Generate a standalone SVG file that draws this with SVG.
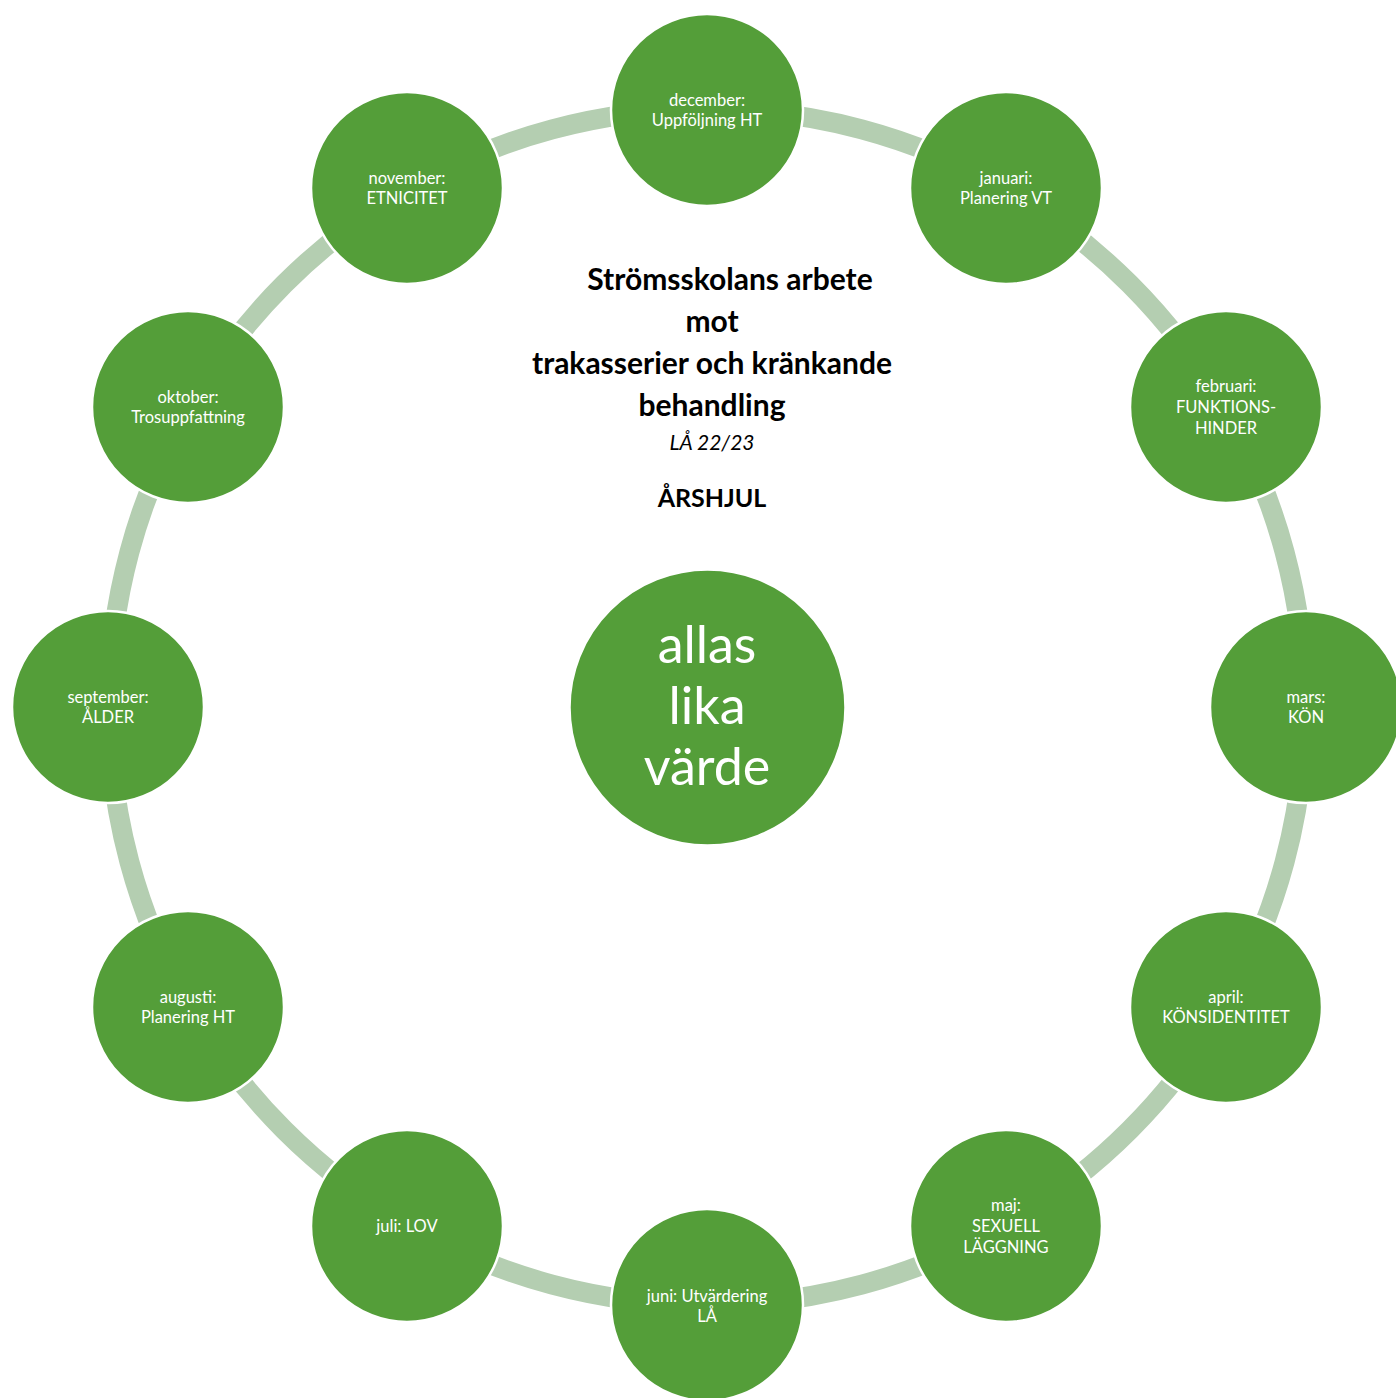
<svg xmlns="http://www.w3.org/2000/svg" width="1396" height="1398" viewBox="0 0 1396 1398">
<style>
.node{fill:#549E39;stroke:#FFFFFF;stroke-width:2.5}
.lbl{font-family:Lato,"Open Sans","Liberation Sans",sans-serif;font-size:16.5px;fill:#FFFFFF;text-anchor:middle}
.ring{fill:none;stroke:#B4CEB1;stroke-width:20}
.title{font-family:Lato,"Open Sans","Liberation Sans",sans-serif;font-weight:bold;font-size:30px;fill:#000;text-anchor:middle}
.big{font-family:Lato,"Open Sans","Liberation Sans",sans-serif;font-size:52px;fill:#FFFFFF;text-anchor:middle}
</style>
<rect width="1396" height="1398" fill="#FFFFFF"/>
<g id="connectors">
<path class="ring" d="M707 109 A598 598 0 0 1 1006 189.1"/>
<path class="ring" d="M1006 189.1 A598 598 0 0 1 1224.9 408"/>
<path class="ring" d="M1224.9 408 A598 598 0 0 1 1305 707"/>
<path class="ring" d="M1305 707 A598 598 0 0 1 1224.9 1006"/>
<path class="ring" d="M1224.9 1006 A598 598 0 0 1 1006 1224.9"/>
<path class="ring" d="M1006 1224.9 A598 598 0 0 1 707 1305"/>
<path class="ring" d="M707 1305 A598 598 0 0 1 408 1224.9"/>
<path class="ring" d="M408 1224.9 A598 598 0 0 1 189.1 1006"/>
<path class="ring" d="M189.1 1006 A598 598 0 0 1 109 707"/>
<path class="ring" d="M109 707 A598 598 0 0 1 189.1 408"/>
<path class="ring" d="M189.1 408 A598 598 0 0 1 408 189.1"/>
<path class="ring" d="M408 189.1 A598 598 0 0 1 707 109"/>
</g>
<g id="title">
<text class="title" x="730" y="290">Strömsskolans arbete</text>
<text class="title" x="712" y="332">mot</text>
<text class="title" x="712" y="374">trakasserier och kränkande</text>
<text class="title" x="712" y="416">behandling</text>
<text x="712" y="450" style="font-family:Lato,'Open Sans','Liberation Sans',sans-serif;font-style:italic;font-size:21px;fill:#000;text-anchor:middle">LÅ 22/23</text>
<text x="712" y="507" style="font-family:Lato,'Open Sans','Liberation Sans',sans-serif;font-weight:bold;font-size:25px;fill:#000;text-anchor:middle">ÅRSHJUL</text>
</g>
<g id="center">
<circle class="node" cx="707.5" cy="707.5" r="138"/>
<text class="big" x="707" y="663">allas</text>
<text class="big" x="707" y="724">lika</text>
<text class="big" x="707" y="785">värde</text>
</g>
<g id="december">
<circle class="node" cx="707" cy="110" r="96"/>
<text class="lbl" x="707" y="106">december:</text>
<text class="lbl" x="707" y="126">Uppföljning HT</text>
</g>
<g id="januari">
<circle class="node" cx="1006" cy="188" r="96"/>
<text class="lbl" x="1006" y="184">januari:</text>
<text class="lbl" x="1006" y="204">Planering VT</text>
</g>
<g id="februari">
<circle class="node" cx="1226" cy="407" r="96"/>
<text class="lbl" x="1226" y="392">februari:</text>
<text class="lbl" x="1226" y="413">FUNKTIONS-</text>
<text class="lbl" x="1226" y="434">HINDER</text>
</g>
<g id="mars">
<circle class="node" cx="1306" cy="707" r="96"/>
<text class="lbl" x="1306" y="703">mars:</text>
<text class="lbl" x="1306" y="723">KÖN</text>
</g>
<g id="april">
<circle class="node" cx="1226" cy="1007" r="96"/>
<text class="lbl" x="1226" y="1003">april:</text>
<text class="lbl" x="1226" y="1023">KÖNSIDENTITET</text>
</g>
<g id="maj">
<circle class="node" cx="1006" cy="1226" r="96"/>
<text class="lbl" x="1006" y="1211">maj:</text>
<text class="lbl" x="1006" y="1232">SEXUELL</text>
<text class="lbl" x="1006" y="1253">LÄGGNING</text>
</g>
<g id="juni">
<circle class="node" cx="707" cy="1305" r="96"/>
<text class="lbl" x="707" y="1302">juni: Utvärdering</text>
<text class="lbl" x="707" y="1322">LÅ</text>
</g>
<g id="juli">
<circle class="node" cx="407" cy="1226" r="96"/>
<text class="lbl" x="407" y="1232">juli: LOV</text>
</g>
<g id="augusti">
<circle class="node" cx="188" cy="1007" r="96"/>
<text class="lbl" x="188" y="1003">augusti:</text>
<text class="lbl" x="188" y="1023">Planering HT</text>
</g>
<g id="september">
<circle class="node" cx="108" cy="707" r="96"/>
<text class="lbl" x="108" y="703">september:</text>
<text class="lbl" x="108" y="723">ÅLDER</text>
</g>
<g id="oktober">
<circle class="node" cx="188" cy="407" r="96"/>
<text class="lbl" x="188" y="403">oktober:</text>
<text class="lbl" x="188" y="423">Trosuppfattning</text>
</g>
<g id="november">
<circle class="node" cx="407" cy="188" r="96"/>
<text class="lbl" x="407" y="184">november:</text>
<text class="lbl" x="407" y="204">ETNICITET</text>
</g>
</svg>
